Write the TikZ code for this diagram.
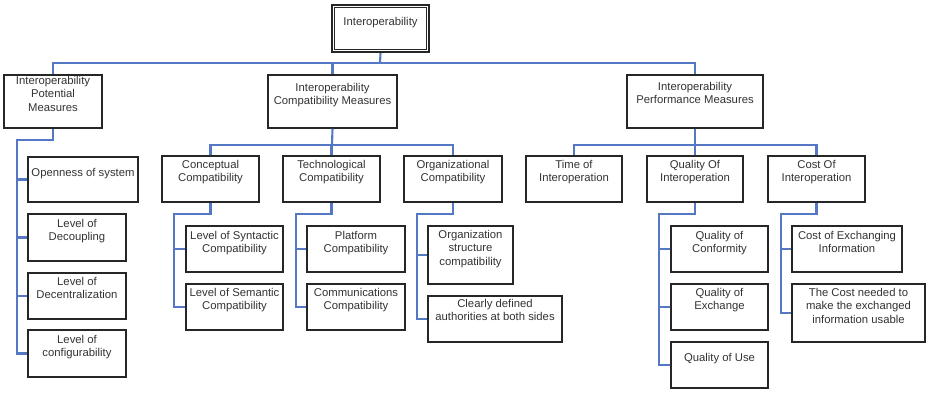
\documentclass[tikz,border=0pt]{standalone}
\usepackage{fontspec}
\setmainfont{Liberation Sans}
\begin{document}
\tikzset{
  box/.style={draw=black!85, line width=1.5pt, fill=white, inner sep=0pt,
    text=black!80, font=\fontsize{11.3}{13.3}\selectfont},
  rootbox/.style={box, line width=2.4pt},
  conn/.style={draw={rgb,255:red,84;green,120;blue,196}, line width=2.1pt}
}
% \bx[style]{name}{x1}{y1}{x2}{y2}{offset of first text line}{text}
\newcommand{\bx}[8][box]{%
  \node[#1] (#2) at ({(#3+#5)/2},{(#4+#6)/2})
    {\parbox[c][\dimexpr#6pt-#4pt\relax][t]{\dimexpr#5pt-#3pt\relax}%
      {\centering\vspace*{\dimexpr#7pt-4.5pt\relax}#8\par}};}
\begin{tikzpicture}[x=1pt,y=-1pt]
\useasboundingbox (0,0) rectangle (927,392);

% junction points of the connectors
\coordinate (busT) at (380,63);
\coordinate (potA) at (17,140);
\coordinate (busC) at (332,145);
\coordinate (busP) at (695,145);
\coordinate (cA) at (174,214);
\coordinate (tA) at (296,214);
\coordinate (oA) at (417,214);
\coordinate (qA) at (659,214);
\coordinate (kA) at (781,214);

% root
\bx[rootbox]{root}{332}{5}{429}{52}{17}{Interoperability}
\draw[black!85, line width=0.8pt] ([shift={(3.8,3.8)}]root.north west) rectangle ([shift={(-3.8,-3.8)}]root.south east);

% first level
\bx{pot}{4}{75}{102}{128}{6}{Interoperability\\Potential\\Measures}
\bx{comp}{268}{75}{397}{128}{13}{Interoperability\\Compatibility Measures}
\bx{perf}{627}{75}{763}{128}{12}{Interoperability\\Performance Measures}

% second level
\bx{concept}{162}{156}{259}{202}{9}{Conceptual\\Compatibility}
\bx{tech}{283}{156}{380}{202}{9}{Technological\\Compatibility}
\bx{org}{404}{156}{502}{202}{9}{Organizational\\Compatibility}
\bx{time}{526}{156}{622}{202}{9}{Time of\\Interoperation}
\bx{qual}{647}{156}{743}{202}{9}{Quality Of\\Interoperation}
\bx{cost}{768}{156}{865}{202}{9}{Cost Of\\Interoperation}

% potential measures
\bx{open}{28}{157}{138}{202}{16}{Openness of system}
\bx{decoup}{28}{214}{126}{261}{10}{Level of\\Decoupling}
\bx{decent}{28}{273}{126}{319}{9}{Level of\\Decentralization}
\bx{config}{28}{330}{126}{377}{10}{Level of\\configurability}

% compatibility leaves
\bx{syn}{186}{226}{283}{272}{10}{Level of Syntactic\\Compatibility}
\bx{sem}{186}{284}{283}{330}{9}{Level of Semantic\\Compatibility}
\bx{plat}{307}{226}{405}{272}{10}{Platform\\Compatibility}
\bx{comm}{307}{284}{405}{330}{9}{Communications\\Compatibility}
\bx{orgs}{428}{226}{513}{284}{9}{Organization\\structure\\compatibility}
\bx{clear}{428}{296}{562}{342}{8}{Clearly defined\\authorities at both sides}

% performance leaves
\bx{qconf}{671}{226}{768}{272}{10}{Quality of\\Conformity}
\bx{qexch}{671}{284}{768}{330}{9}{Quality of\\Exchange}
\bx{quse}{671}{342}{768}{388}{16}{Quality of Use}
\bx{cexch}{792}{226}{902}{272}{10}{Cost of Exchanging\\Information}
\bx{cneed}{792}{284}{925}{342}{9}{The Cost needed to\\make the exchanged\\information usable}

% top level bus
\draw[conn] (root.south) -- (busT);
\draw[conn] (pot.north) |- (busT) -| (perf.north);
\draw[conn] (comp.north) -- (comp.north |- busT);

% potential branch
\draw[conn] (pot.south) |- (potA) |- (config.west);
\foreach \c in {open,decoup,decent}
  \draw[conn] (potA |- \c.west) -- (\c.west);

% compatibility branch
\draw[conn] (comp.south) -- (busC);
\draw[conn] (concept.north) |- (busC) -| (org.north);
\draw[conn] (tech.north) -- (tech.north |- busC);
\draw[conn] (concept.south) |- (cA) |- (sem.west);
\draw[conn] (cA |- syn.west) -- (syn.west);
\draw[conn] (tech.south) |- (tA) |- (comm.west);
\draw[conn] (tA |- plat.west) -- (plat.west);
\draw[conn] (org.south) |- (oA) |- (clear.west);
\draw[conn] (oA |- orgs.west) -- (orgs.west);

% performance branch
\draw[conn] (perf.south) -- (busP);
\draw[conn] (time.north) |- (busP) -| (cost.north);
\draw[conn] (qual.north) -- (qual.north |- busP);
\draw[conn] (qual.south) |- (qA) |- (quse.west);
\draw[conn] (qA |- qconf.west) -- (qconf.west);
\draw[conn] (qA |- qexch.west) -- (qexch.west);
\draw[conn] (cost.south) |- (kA) |- (cneed.west);
\draw[conn] (kA |- cexch.west) -- (cexch.west);
\end{tikzpicture}
\end{document}
